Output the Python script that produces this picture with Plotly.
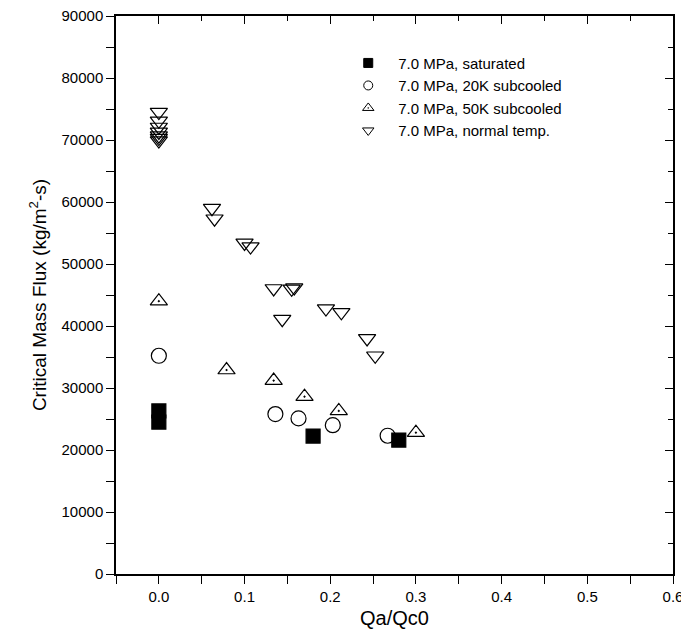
import plotly.graph_objects as go

# ---- data ----
sat_x = [0.0, 0.0, 0.18, 0.28]
sat_y = [26300, 24500, 22250, 21600]

sub20_x = [0.0, 0.136, 0.163, 0.203, 0.267]
sub20_y = [35200, 25800, 25100, 24000, 22300]

sub50_x = [0.0, 0.079, 0.134, 0.170, 0.210, 0.300]
sub50_y = [44000, 32900, 31200, 28600, 26300, 22800]

norm_x = [0.0, 0.0, 0.0, 0.0, 0.0, 0.0, 0.0,
          0.062, 0.065, 0.100, 0.107, 0.134, 0.155, 0.158,
          0.144, 0.195, 0.213, 0.243, 0.2525]
norm_y = [74500, 73100, 72100, 71300, 70700, 70300, 69900,
          59000, 57300, 53400, 52800, 46050, 46000, 46200,
          41100, 42800, 42200, 38000, 35200]

names = ["7.0 MPa, saturated", "7.0 MPa, 20K subcooled",
         "7.0 MPa, 50K subcooled", "7.0 MPa, normal temp."]

x_ticks = [0.0, 0.1, 0.2, 0.3, 0.4, 0.5, 0.6]
y_ticks = [0, 10000, 20000, 30000, 40000, 50000, 60000, 70000, 80000, 90000]

FONT = "Liberation Sans, Arial, Helvetica, sans-serif"

fig = go.Figure()

series = [
    (sat_x, sat_y, "square", 14),
    (sub20_x, sub20_y, "circle-open", 15),
    (sub50_x, sub50_y, "triangle-up-open-dot", 15),
    (norm_x, norm_y, "triangle-down-open", 15),
]

for (xs, ys, sym, sz), nm in zip(series, names):
    fig.add_trace(go.Scatter(
        x=xs, y=ys, mode="markers", name=nm, showlegend=False,
        marker=dict(symbol=sym, size=sz, color="black", line=dict(color="black", width=1.2)),
    ))

# legend-only entries with small markers
leg_sizes = [9, 9, 10, 10]
for (xs, ys, sym, sz), nm, ls in zip(series, names, leg_sizes):
    fig.add_trace(go.Scatter(
        x=[None], y=[None], mode="markers", name=nm, showlegend=True,
        marker=dict(symbol=sym, size=ls, color="black", line=dict(color="black", width=1)),
    ))

# invisible trace for mirrored top/right axes
fig.add_trace(go.Scatter(x=[None], y=[None], xaxis="x2", yaxis="y2",
                         showlegend=False, hoverinfo="skip"))

axis_common = dict(showgrid=False, zeroline=False, showline=True,
                   linecolor="black", linewidth=1.5, tickcolor="black",
                   tickwidth=1.2, automargin=False)

fig.update_layout(
    width=681, height=621,
    paper_bgcolor="white", plot_bgcolor="white",
    margin=dict(l=108, r=16, t=8, b=55, autoexpand=False),
    font=dict(family=FONT, size=15, color="black"),
    xaxis=dict(
        range=[-0.05, 0.6], tickvals=x_ticks,
        ticktext=[f"{v:.1f}" for v in x_ticks],
        ticks="outside", ticklen=8, ticklabeloverflow="allow",
        minor=dict(dtick=0.05, tick0=0, ticks="outside", ticklen=8,
                   tickcolor="black", tickwidth=1.2),
        title=dict(text="Qa/Qc0", font=dict(family=FONT, size=20, color="black"), standoff=9),
        tickfont=dict(family=FONT, size=15, color="black"),
        **axis_common,
    ),
    yaxis=dict(
        range=[0, 90000], tickvals=y_ticks,
        ticktext=[str(v) for v in y_ticks],
        ticks="outside", ticklen=8, ticklabeloverflow="allow",
        minor=dict(dtick=5000, tick0=0, ticks="outside", ticklen=8,
                   tickcolor="black", tickwidth=1.2),
        title=dict(text="Critical Mass Flux (kg/m<sup>2</sup>-s)",
                   font=dict(family=FONT, size=19, color="black"), standoff=10),
        tickfont=dict(family=FONT, size=15, color="black"),
        **axis_common,
    ),
    xaxis2=dict(
        range=[-0.05, 0.6], overlaying="x", side="top", anchor="y",
        tickvals=x_ticks, showticklabels=False,
        ticks="inside", ticklen=8,
        minor=dict(dtick=0.05, tick0=0, ticks="inside", ticklen=5,
                   tickcolor="black", tickwidth=1.2),
        **axis_common,
    ),
    yaxis2=dict(
        range=[0, 90000], overlaying="y", side="right", anchor="x",
        tickvals=y_ticks, showticklabels=False,
        ticks="inside", ticklen=8,
        minor=dict(dtick=5000, tick0=0, ticks="inside", ticklen=5,
                   tickcolor="black", tickwidth=1.2),
        **axis_common,
    ),
    legend=dict(
        x=0.399, y=0.945, xanchor="left", yanchor="top",
        bgcolor="rgba(0,0,0,0)", borderwidth=0,
        font=dict(family=FONT, size=15, color="black"),
        tracegroupgap=0, itemsizing="trace", itemwidth=50,
    ),
)

fig.write_html("out.html")
